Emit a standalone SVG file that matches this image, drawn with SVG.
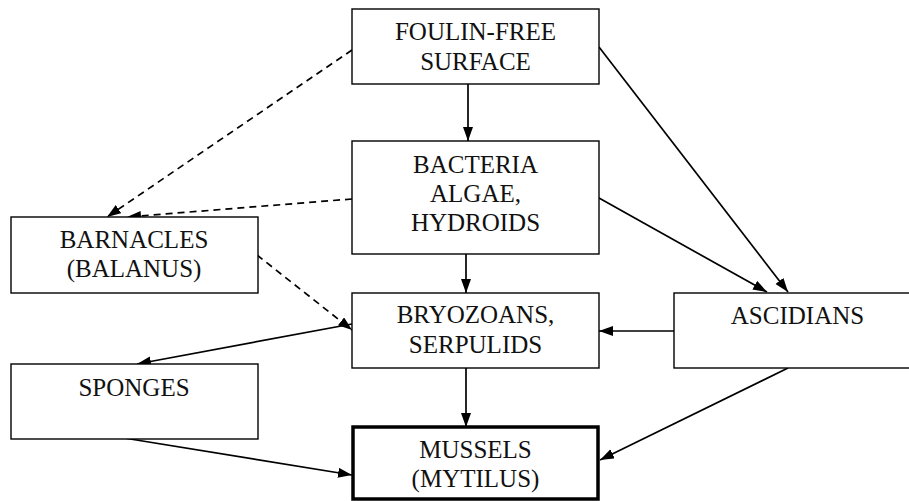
<svg xmlns="http://www.w3.org/2000/svg" width="909" height="501" viewBox="0 0 909 501">
<style>
.box{fill:#fff;stroke:#000;stroke-width:1.4}
.thick{fill:#fff;stroke:#000;stroke-width:3.5}
.lbl{font-family:"Liberation Serif","Times New Roman",serif;font-size:25px;fill:#111;text-anchor:middle}
.c{stroke:#000;stroke-width:1.7;fill:none;marker-end:url(#ah)}
.d{stroke-dasharray:7 5}
</style>
<defs>
<marker id="ah" markerUnits="userSpaceOnUse" markerWidth="15" markerHeight="11" refX="14" refY="5" orient="auto">
<path d="M0,0 L14,5 L0,10 z" fill="#000"/>
</marker>
</defs>
<rect width="909" height="501" fill="#fff"/>
<g id="connectors">
<line class="c" x1="468" y1="84" x2="468" y2="141"/>
<line class="c" x1="466" y1="254" x2="466" y2="293"/>
<line class="c" x1="466" y1="368" x2="466" y2="427"/>
<line class="c d" x1="352" y1="50" x2="107" y2="217"/>
<line class="c d" x1="352" y1="199" x2="127" y2="217"/>
<line class="c d" x1="257" y1="255" x2="352" y2="330"/>
<line class="c" x1="352" y1="324" x2="137" y2="364"/>
<line class="c" x1="599" y1="198" x2="767" y2="292"/>
<line class="c" x1="599" y1="47" x2="788" y2="292"/>
<line class="c" x1="674" y1="331" x2="599" y2="331"/>
<line class="c" x1="788" y1="368" x2="600" y2="460"/>
<line class="c" x1="124" y1="438" x2="352" y2="475"/>
</g>
<g id="foulin-free">
<rect class="box" x="352" y="9" width="247" height="75"/>
<text class="lbl"><tspan x="475.5" y="40">FOULIN-FREE</tspan><tspan x="475.5" y="70">SURFACE</tspan></text>
</g>
<g id="bacteria">
<rect class="box" x="352" y="141" width="247" height="113"/>
<text class="lbl"><tspan x="475.5" y="173">BACTERIA</tspan><tspan x="475.5" y="202">ALGAE,</tspan><tspan x="475.5" y="231">HYDROIDS</tspan></text>
</g>
<g id="barnacles">
<rect class="box" x="11" y="217" width="247" height="76"/>
<text class="lbl"><tspan x="134" y="248">BARNACLES</tspan><tspan x="134" y="277">(BALANUS)</tspan></text>
</g>
<g id="bryozoans">
<rect class="box" x="352" y="293" width="247" height="75"/>
<text class="lbl"><tspan x="475.5" y="323">BRYOZOANS,</tspan><tspan x="475.5" y="353">SERPULIDS</tspan></text>
</g>
<g id="ascidians">
<rect class="box" x="674" y="293" width="247" height="75"/>
<text class="lbl" x="797.5" y="324">ASCIDIANS</text>
</g>
<g id="sponges">
<rect class="box" x="11" y="364" width="247" height="75"/>
<text class="lbl" x="134" y="396">SPONGES</text>
</g>
<g id="mussels">
<rect class="thick" x="353" y="427" width="245" height="72"/>
<text class="lbl"><tspan x="475.5" y="458">MUSSELS</tspan><tspan x="475.5" y="487">(MYTILUS)</tspan></text>
</g>
</svg>
